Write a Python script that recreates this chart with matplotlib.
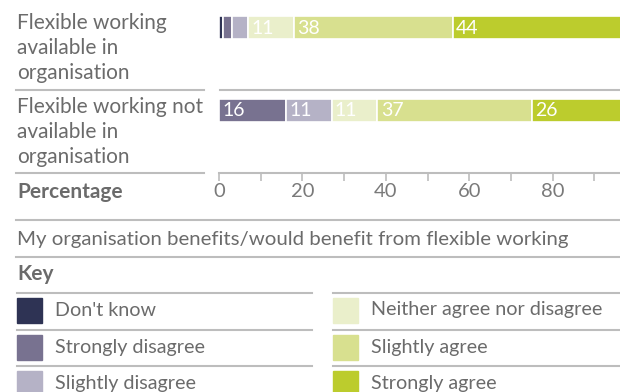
import matplotlib.pyplot as plt
import numpy as np

plt.rcParams['font.family'] = ['Lato', 'DejaVu Sans']

# survey answers, percent of respondents
rows = ['Flexible working\navailable in\norganisation',
        'Flexible working not\navailable in\norganisation']
answers = ["Don't know", 'Strongly disagree', 'Slightly disagree',
           'Neither agree nor disagree', 'Slightly agree', 'Strongly agree']
values = [
    [1, 2, 4, 11, 38, 44],
    [0, 16, 11, 11, 37, 26],
]
colors = ['#2e3354', '#787290', '#b5b2c6', '#eaefcb', '#d8e08f', '#bccc2d']
xticks = [0, 20, 40, 60, 80]
subtitle = 'My organisation benefits/would benefit from flexible working'

TXT = '#6b6b6b'
RULE = '#bdbdbd'
W, H = 620, 392
FS = 15

fig = plt.figure(figsize=(W / 100, H / 100), dpi=100)

# overlay in pixel units for text and rules
bg = fig.add_axes([0, 0, 1, 1])
bg.set_xlim(0, W)
bg.set_ylim(H, 0)
bg.axis('off')

# bar panel: x from 219px to the right edge, y from 0 to the axis rule at 173px
x0, x1, ytop, ybot = 219, 620, 0, 173
px_per_unit = 4.17
ax = fig.add_axes([x0 / W, 1 - ybot / H, (x1 - x0) / W, (ybot - ytop) / H])
ax.set_xlim(0, (x1 - x0) / px_per_unit)
ax.set_ylim(ybot, ytop)
ax.patch.set_alpha(0)

row_y = [27.5, 110.5]
for yc, vals in zip(row_y, values):
    left = 0
    for v, c in zip(vals, colors):
        if v > 0:
            ax.barh(yc, v, left=left, height=23, color=c,
                    edgecolor='white', linewidth=1.2)
            if v >= 10:
                ax.text(left + 0.8, yc + 0.5, str(v), color='white',
                        fontsize=14, va='center', ha='left')
        left += v

for s in ['top', 'right', 'left']:
    ax.spines[s].set_visible(False)
ax.spines['bottom'].set_color(RULE)
ax.spines['bottom'].set_linewidth(1.5)
ax.set_yticks([])
ax.set_xticks(xticks)
ax.set_xticks([t + 10 for t in xticks], minor=True)
ax.tick_params(axis='x', which='both', direction='out', length=6,
               width=1.2, color=RULE, labelcolor='#7a7a7a', labelsize=14.5,
               pad=1)

# separator between the two rows on the bar side
bg.plot([220, W], [89.5, 89.5], color=RULE, lw=1.5)

# row labels and their rules
for yc, label in zip([13, 97], rows):
    bg.text(17, yc, label, color=TXT, fontsize=FS, va='top', ha='left',
            linespacing=1.3)
for yl in [89.5, 172.7]:
    bg.plot([16, 204], [yl, yl], color=RULE, lw=1.5)

bg.text(17, 192, 'Percentage', color=TXT, fontsize=FS, fontweight='bold',
        va='center', ha='left')

bg.plot([16, W], [220, 220], color=RULE, lw=1.5)
bg.text(17, 239, subtitle, color=TXT, fontsize=14.7, va='center', ha='left')
bg.plot([16, W], [256.7, 256.7], color=RULE, lw=1.5)
bg.text(17, 274, 'Key', color=TXT, fontsize=FS, fontweight='bold',
        va='center', ha='left')

# key, two columns of three
key_x = [(17, 312), (333, W)]
key_y = [310, 347, 383]
for i, (name, c) in enumerate(zip(answers, colors)):
    col, r = divmod(i, 3)
    lx, rx = key_x[col]
    yc = key_y[r]
    bg.plot([lx, rx], [yc - 17.5, yc - 17.5], color=RULE, lw=1.5)
    bg.add_patch(plt.Rectangle((lx, yc - 12), 25, 25, color=c))
    bg.text(lx + 38, yc, name, color=TXT, fontsize=14.2, va='center',
            ha='left')

fig.savefig('out.png', dpi=100)
